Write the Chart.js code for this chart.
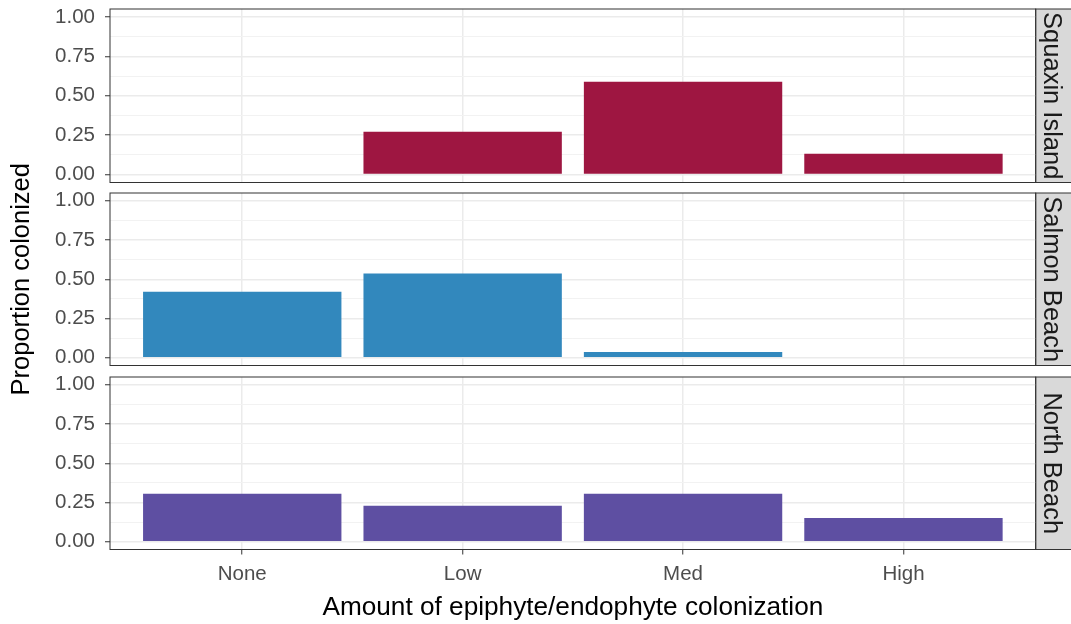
<!DOCTYPE html>
<html>
<head>
<meta charset="utf-8">
<script src="https://cdn.jsdelivr.net/npm/chart.js@4.4.1/dist/chart.umd.min.js"></script>
<style>
html, body { margin: 0; padding: 0; background: #ffffff; }
#wrap { position: relative; width: 1071px; height: 624px; overflow: hidden; background: #ffffff; }
#wrap canvas { position: absolute; left: 0; top: 0; }
</style>
</head>
<body>
<div id="wrap">
  <canvas id="c0" width="1071" height="624"></canvas>
  <canvas id="c1" width="1071" height="624"></canvas>
  <canvas id="c2" width="1071" height="624"></canvas>
</div>
<script>
// ---- data ----
const categories = ['None', 'Low', 'Med', 'High'];
const sites = ['Squaxin Island', 'Salmon Beach', 'North Beach'];
const squaxinValues = [0, 0.272, 0.588, 0.133];
const salmonValues = [0.42, 0.537, 0.036, 0];
const northValues = [0.305, 0.229, 0.305, 0.151];
const yTickValues = [0, 0.25, 0.5, 0.75, 1];
const yMinorTickValues = [0.125, 0.375, 0.625, 0.875];
const xTitle = 'Amount of epiphyte/endophyte colonization';
const yTitle = 'Proportion colonized';
const siteColors = ['#9E1641', '#3288BD', '#5E4FA2'];

// ---- layout ----
const W = 1071, H = 624;
const panelTops = [9, 193, 377];
const panelBottoms = [182.5, 365.5, 549.5];
const plotRight = 1035.7;
const FONT = "'Liberation Sans', Arial, Helvetica, sans-serif";
const yAllTicks = yTickValues.concat(yMinorTickValues).sort((a, b) => a - b);
const isMajor = v => yTickValues.includes(v);

const panelPlugin = {
  id: 'panelDeco',
  beforeDraw(chart) {
    const { ctx, chartArea: a } = chart;
    ctx.save();
    ctx.fillStyle = '#D9D9D9';
    ctx.fillRect(a.right, a.top, W - a.right + 5, a.bottom - a.top);
    ctx.strokeStyle = '#333333';
    ctx.lineWidth = 1;
    ctx.strokeRect(a.right, a.top, W - a.right + 5, a.bottom - a.top);
    ctx.restore();
  },
  afterDatasetsDraw(chart) {
    const { ctx, chartArea: a } = chart;
    ctx.save();
    ctx.strokeStyle = '#333333';
    ctx.lineWidth = 1;
    ctx.strokeRect(a.left, a.top, a.right - a.left, a.bottom - a.top);
    ctx.restore();
  }
};

function makeChart(i, values) {
  const isBottom = i === 2;
  const isMiddle = i === 1;
  return new Chart(document.getElementById('c' + i), {
    type: 'bar',
    data: {
      datasets: [{
        label: sites[i],
        data: categories.map((c, k) => ({ x: k + 1, y: values[k] })),
        backgroundColor: siteColors[i],
        borderWidth: 0,
        categoryPercentage: 1,
        barPercentage: 0.9
      }]
    },
    options: {
      responsive: false,
      animation: false,
      events: [],
      layout: { padding: { left: 0, right: 0, top: panelTops[i], bottom: isBottom ? 0 : H - panelBottoms[i] } },
      plugins: { legend: { display: false }, tooltip: { enabled: false } },
      scales: {
        x: {
          type: 'linear', min: 0.4, max: 4.6, bounds: 'data', position: 'bottom', offset: false,
          afterBuildTicks: s => { s.ticks = categories.map((c, k) => ({ value: k + 1 })); },
          afterFit: s => { s.height = isBottom ? H - panelBottoms[i] : 0; s.paddingLeft = 0; s.paddingRight = 0; },
          ticks: {
            display: isBottom, autoSkip: false, maxRotation: 0, minRotation: 0,
            callback: v => categories[Math.round(v) - 1],
            color: '#4D4D4D', font: { family: FONT, size: 20.5 }, padding: 8
          },
          grid: { offset: false, color: '#EBEBEB', lineWidth: 1.5, drawTicks: isBottom, tickLength: 5, tickColor: '#333333', tickWidth: 1 },
          border: { display: false },
          title: { display: isBottom, text: xTitle, color: '#000000', font: { family: FONT, size: 26.2, lineHeight: 1 }, padding: { top: 0, bottom: 3 } }
        },
        y: {
          type: 'linear', min: -0.05, max: 1.05, bounds: 'data', position: 'left',
          afterBuildTicks: s => { s.ticks = yAllTicks.map(v => ({ value: v })); },
          afterFit: s => { s.width = 110; s.paddingTop = 0; s.paddingBottom = 0; },
          ticks: {
            autoSkip: false,
            callback: v => isMajor(v) ? v.toFixed(2) : '',
            color: '#4D4D4D', font: { family: FONT, size: 20.5 }, padding: 10
          },
          grid: {
            color: c => (c.tick && isMajor(c.tick.value)) ? '#EBEBEB' : '#F2F2F2',
            lineWidth: c => (c.tick && isMajor(c.tick.value)) ? 1.5 : 1,
            drawTicks: true, tickLength: 5,
            tickColor: c => (c.tick && isMajor(c.tick.value)) ? '#333333' : 'rgba(0,0,0,0)',
            tickWidth: 1
          },
          border: { display: false },
          title: { display: isMiddle, text: yTitle, color: '#000000', font: { family: FONT, size: 25.5, lineHeight: 1 }, padding: { top: 9, bottom: 0 } }
        },
        y2: {
          type: 'linear', position: 'right', min: 0, max: 1, display: true,
          afterFit: s => { s.width = W - plotRight; s.paddingTop = 0; s.paddingBottom = 0; },
          ticks: { display: false },
          grid: { display: false, drawTicks: false },
          border: { display: false },
          title: { display: true, text: sites[i], color: '#1A1A1A', font: { family: FONT, size: 25.5, lineHeight: 1 }, padding: { top: 7.5, bottom: 0 } }
        }
      }
    },
    plugins: [panelPlugin]
  });
}

makeChart(0, squaxinValues);
makeChart(1, salmonValues);
makeChart(2, northValues);
</script>
</body>
</html>
